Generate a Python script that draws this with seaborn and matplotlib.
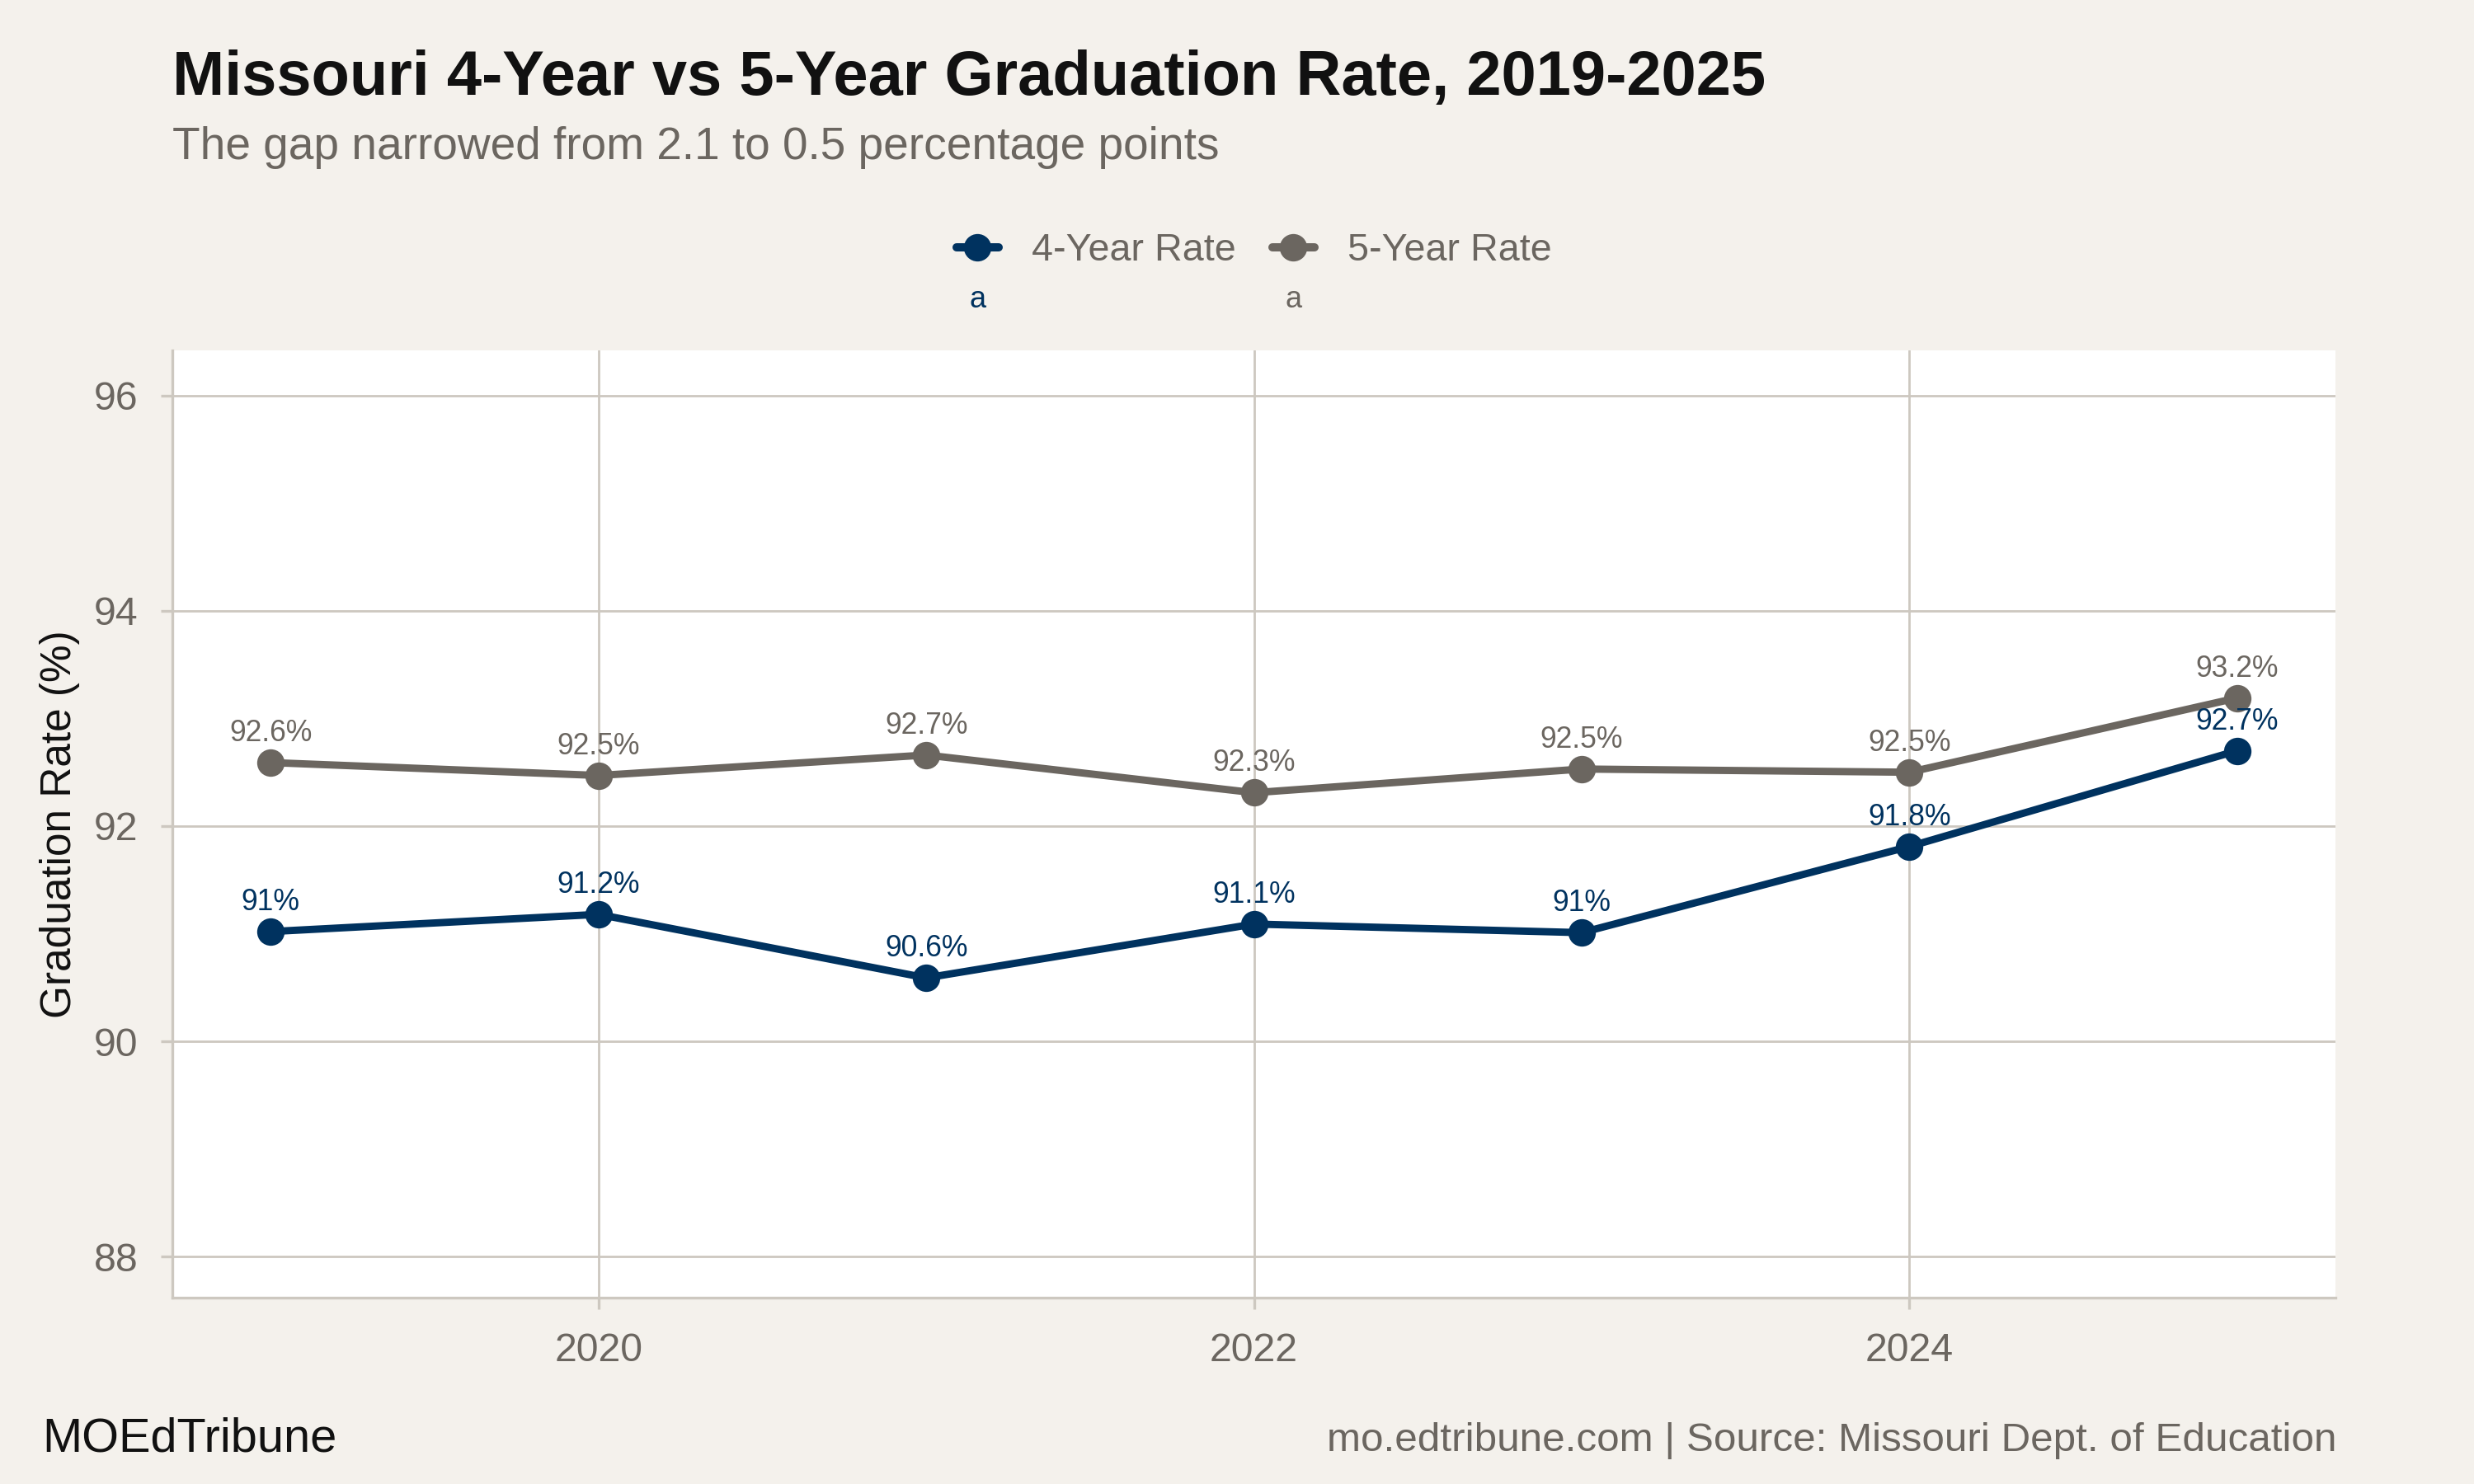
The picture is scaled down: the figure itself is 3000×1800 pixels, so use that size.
import numpy as np
import pandas as pd
import matplotlib.pyplot as plt
import seaborn as sns

years = [2019, 2020, 2021, 2022, 2023, 2024, 2025]
rate_4yr = [91.02, 91.18, 90.59, 91.09, 91.01, 91.81, 92.70]
rate_5yr = [92.59, 92.47, 92.66, 92.31, 92.53, 92.50, 93.19]
series_names = ['4-Year Rate', '5-Year Rate']
y_ticks = [88, 90, 92, 94, 96]
x_ticks = [2020, 2022, 2024]

NAVY = '#00325f'
GRAY = '#6b6660'
BG = '#f4f1ec'
GRID = '#cdc8c0'

df = pd.DataFrame({
    'Year': years * 2,
    'Rate': rate_4yr + rate_5yr,
    'Series': [series_names[0]] * len(years) + [series_names[1]] * len(years),
})

sns.set_theme(style='whitegrid')
plt.rcParams['font.family'] = ['Liberation Sans', 'DejaVu Sans']

fig = plt.figure(figsize=(15, 9), dpi=200, facecolor=BG)
ax = fig.add_axes([0.0697, 0.1256, 0.8743, 0.6384])
ax.set_facecolor('white')

palette = {series_names[0]: NAVY, series_names[1]: GRAY}
sns.lineplot(data=df, x='Year', y='Rate', hue='Series', palette=palette,
             marker='o', markersize=12, markeredgewidth=0, linewidth=3.2,
             ax=ax, legend=True)

# value labels
for name, vals in zip(series_names, [rate_4yr, rate_5yr]):
    for yr, v in zip(years, vals):
        ax.annotate(f'{round(v, 1):g}%', (yr, v), xytext=(0, 6.5), textcoords='offset points',
                    ha='center', va='bottom', fontsize=12.8, color=palette[name])

ax.set_xlim(2018.70, 2025.30)
ax.set_ylim(87.62, 96.42)
ax.set_xticks(x_ticks)
ax.set_yticks(y_ticks)
ax.tick_params(axis='both', length=5, width=1.2, color=GRID, labelsize=17.4,
               labelcolor=GRAY, pad=10, left=True, bottom=True)
ax.grid(True, color=GRID, linewidth=1.0)
for s in ['top', 'right']:
    ax.spines[s].set_visible(False)
for s in ['left', 'bottom']:
    ax.spines[s].set_color(GRID)
    ax.spines[s].set_linewidth(1.2)
ax.set_xlabel('')
ax.set_ylabel('Graduation Rate (%)', fontsize=18.5, color='#111111', labelpad=6)

# legend centred over the panel, not the figure
leg = ax.legend(loc='center', bbox_to_anchor=(0.5, 1.105),
                ncol=2, frameon=False, fontsize=16.8, handlelength=1.1,
                columnspacing=0.95, handletextpad=0.85)
for t in leg.get_texts():
    t.set_color(GRAY)
for h in leg.legend_handles:
    h.set_linewidth(3.6)
    h.set_markersize(12)

# the stray "a" key glyphs under each legend entry
fig.canvas.draw()
inv = fig.transFigure.inverted()
for h, name in zip(leg.legend_handles, series_names):
    bb = h.get_window_extent(fig.canvas.get_renderer())
    cx = inv.transform(((bb.x0 + bb.x1) / 2, 0))[0]
    fig.text(cx, 0.798, 'a', ha='center', va='center', fontsize=13, color=palette[name])

fig.text(0.0697, 0.936, 'Missouri 4-Year vs 5-Year Graduation Rate, 2019-2025',
         fontsize=27.3, fontweight='bold', color='#111111', ha='left', va='baseline')
fig.text(0.0697, 0.893, 'The gap narrowed from 2.1 to 0.5 percentage points',
         fontsize=19.8, color=GRAY, ha='left', va='baseline')
fig.text(0.017, 0.022, 'MOEdTribune', fontsize=20.8, color='#111111', ha='left', va='baseline')
fig.text(0.9445, 0.022, 'mo.edtribune.com | Source: Missouri Dept. of Education',
         fontsize=17.8, color=GRAY, ha='right', va='baseline')

fig.savefig('out.png', dpi=200, facecolor=BG)
